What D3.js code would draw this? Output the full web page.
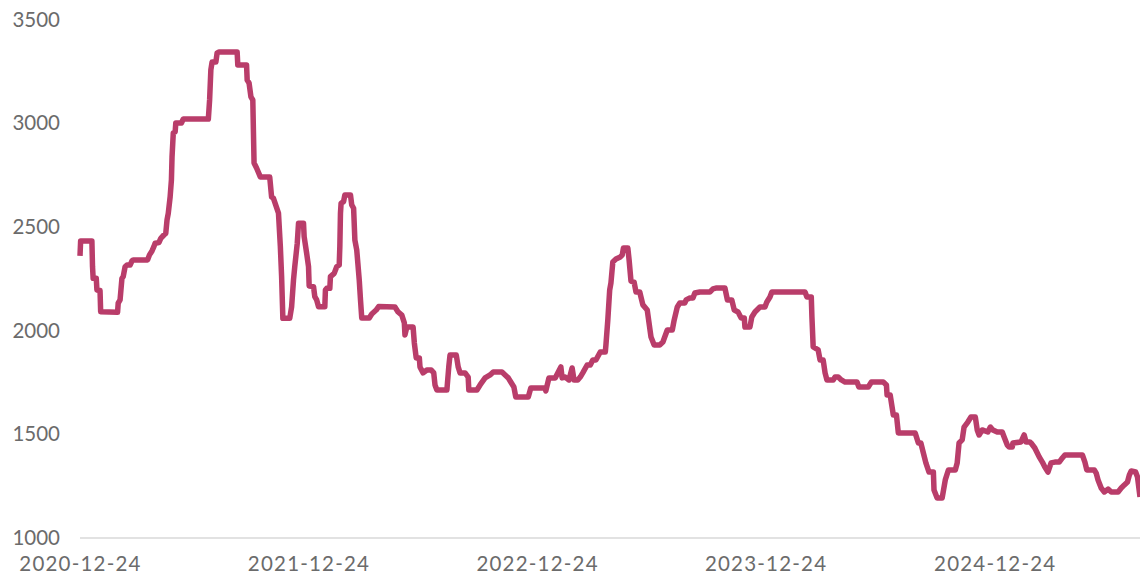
<!DOCTYPE html>
<html>
<head>
<meta charset="utf-8">
<script src="https://cdn.jsdelivr.net/npm/d3@7"></script>
<style>
  html, body { margin: 0; padding: 0; background: #ffffff; }
  svg { display: block; }
</style>
</head>
<body>
<svg id="chart" width="1140" height="578"></svg>
<script>
const dates = [
  "2020-12-24","2020-12-25","2021-01-12","2021-01-13","2021-01-14","2021-01-19","2021-01-20","2021-01-25","2021-01-26",
  "2021-02-22","2021-02-23","2021-02-26","2021-03-01","2021-03-03","2021-03-06","2021-03-09","2021-03-14","2021-03-17",
  "2021-03-19","2021-04-11","2021-04-14","2021-04-18","2021-04-21","2021-04-23","2021-04-29","2021-05-02","2021-05-07",
  "2021-05-10","2021-05-12","2021-05-14","2021-05-17","2021-05-19","2021-05-20","2021-05-22","2021-05-25","2021-05-26",
  "2021-06-04","2021-06-07","2021-07-17","2021-07-19","2021-07-21","2021-07-23","2021-07-29","2021-07-31","2021-08-03",
  "2021-09-01","2021-09-02","2021-09-16","2021-09-17","2021-09-20","2021-09-23","2021-09-26","2021-09-28","2021-10-02",
  "2021-10-08","2021-10-23","2021-10-26","2021-10-29","2021-11-06","2021-11-09","2021-11-11","2021-11-13","2021-11-24",
  "2021-11-27","2021-11-30","2021-12-02","2021-12-06","2021-12-08","2021-12-16","2021-12-17","2021-12-21","2021-12-24",
  "2021-12-25","2022-01-01","2022-01-03","2022-01-06","2022-01-09","2022-01-19","2022-01-20","2022-01-22","2022-01-27",
  "2022-01-28","2022-02-03","2022-02-07","2022-02-11","2022-02-12","2022-02-13","2022-02-14","2022-02-18","2022-02-20",
  "2022-03-01","2022-03-03","2022-03-06","2022-03-08","2022-03-11","2022-03-15","2022-03-17","2022-03-19","2022-03-31",
  "2022-04-04","2022-04-11","2022-04-15","2022-05-11","2022-05-16","2022-05-22","2022-05-26","2022-05-27","2022-05-30",
  "2022-06-09","2022-06-11","2022-06-14","2022-06-19","2022-06-20","2022-06-25","2022-07-01","2022-07-08","2022-07-12",
  "2022-07-14","2022-07-17","2022-08-02","2022-08-05","2022-08-07","2022-08-17","2022-08-20","2022-08-23","2022-08-31",
  "2022-09-05","2022-09-06","2022-09-19","2022-09-24","2022-10-02","2022-10-10","2022-10-15","2022-10-29","2022-11-03",
  "2022-11-08","2022-11-12","2022-11-17","2022-11-20","2022-12-10","2022-12-14","2022-12-29","2023-01-06","2023-01-07",
  "2023-01-12","2023-01-22","2023-01-31","2023-02-02","2023-02-07","2023-02-13","2023-02-18","2023-02-21","2023-02-27",
  "2023-03-03","2023-03-07","2023-03-14","2023-03-19","2023-03-23","2023-03-28","2023-04-04","2023-04-12","2023-04-13",
  "2023-04-16","2023-04-19","2023-04-21","2023-04-24","2023-04-29","2023-05-06","2023-05-09","2023-05-11","2023-05-18",
  "2023-05-20","2023-05-23","2023-05-28","2023-05-31","2023-06-06","2023-06-11","2023-06-18","2023-06-24","2023-06-29",
  "2023-07-08","2023-07-13","2023-07-20","2023-07-28","2023-07-31","2023-08-05","2023-08-09","2023-08-17","2023-08-19",
  "2023-08-25","2023-08-30","2023-09-02","2023-09-10","2023-09-26","2023-10-01","2023-10-07","2023-10-20","2023-10-24",
  "2023-10-31","2023-11-04","2023-11-10","2023-11-15","2023-11-20","2023-11-21","2023-11-29","2023-12-02","2023-12-07",
  "2023-12-15","2023-12-23","2023-12-26","2023-12-31","2024-01-03","2024-02-25","2024-02-28","2024-03-06","2024-03-07",
  "2024-03-09","2024-03-17","2024-03-20","2024-03-25","2024-03-28","2024-03-31","2024-04-10","2024-04-13","2024-04-18",
  "2024-04-23","2024-04-29","2024-05-18","2024-05-21","2024-06-05","2024-06-10","2024-06-29","2024-07-04","2024-07-05",
  "2024-07-10","2024-07-12","2024-07-15","2024-07-20","2024-07-23","2024-08-19","2024-08-24","2024-08-28","2024-09-01",
  "2024-09-05","2024-09-10","2024-09-17","2024-09-18","2024-09-23","2024-10-01","2024-10-06","2024-10-11","2024-10-22",
  "2024-10-25","2024-10-28","2024-11-02","2024-11-05","2024-11-11","2024-11-16","2024-11-23","2024-11-26","2024-11-29",
  "2024-12-04","2024-12-13","2024-12-17","2024-12-21","2024-12-28","2025-01-05","2025-01-08","2025-01-13","2025-01-16",
  "2025-01-21","2025-01-22","2025-02-04","2025-02-09","2025-02-12","2025-02-18","2025-02-20","2025-02-26","2025-03-05",
  "2025-03-10","2025-03-14","2025-03-19","2025-03-24","2025-03-30","2025-04-06","2025-04-11","2025-04-15","2025-05-13",
  "2025-05-17","2025-05-20","2025-06-01","2025-06-04","2025-06-07","2025-06-12","2025-06-17","2025-06-23","2025-06-28",
  "2025-07-09","2025-07-14","2025-07-19","2025-07-24","2025-07-27","2025-07-30","2025-08-06","2025-08-09","2025-08-13"
];
const values = [
  2360,2432,2432,2308,2252,2252,2196,2193,2091,
  2088,2132,2148,2252,2260,2308,2316,2316,2336,
  2341,2341,2365,2384,2405,2421,2424,2445,2461,
  2469,2533,2566,2646,2726,2837,2953,2958,3001,
  3001,3020,3020,3112,3257,3295,3295,3339,3343,
  3343,3281,3281,3208,3194,3127,3112,2808,2784,
  2741,2741,2644,2638,2566,2405,2260,2059,2059,
  2115,2244,2308,2421,2517,2517,2453,2373,2308,
  2215,2212,2164,2148,2115,2115,2196,2204,2204,
  2260,2276,2308,2316,2405,2566,2614,2622,2654,
  2654,2606,2590,2437,2389,2244,2148,2061,2061,
  2080,2099,2116,2114,2090,2075,2037,1979,2017,
  2017,1940,1868,1868,1825,1796,1810,1810,1796,
  1738,1714,1714,1825,1882,1882,1825,1796,1796,
  1776,1714,1714,1738,1772,1786,1800,1800,1786,
  1772,1752,1728,1680,1680,1723,1723,1723,1709,
  1772,1772,1825,1772,1776,1762,1820,1762,1762,
  1776,1796,1834,1834,1858,1858,1897,1897,1931,
  2051,2196,2230,2331,2345,2355,2365,2398,2398,
  2341,2239,2234,2186,2186,2124,2099,1969,1931,
  1931,1945,2003,2003,2051,2114,2133,2133,2148,
  2157,2157,2181,2186,2186,2201,2206,2206,2148,
  2148,2099,2090,2061,2061,2017,2017,2066,2090,
  2114,2114,2138,2162,2186,2186,2162,2162,2066,
  1921,1907,1858,1858,1796,1762,1762,1776,1776,
  1762,1752,1752,1728,1728,1752,1752,1738,1690,
  1690,1651,1593,1593,1506,1506,1458,1458,1410,
  1362,1318,1318,1231,1193,1193,1280,1328,1328,
  1362,1458,1473,1535,1559,1583,1583,1521,1497,
  1521,1511,1535,1521,1511,1511,1487,1448,1439,
  1439,1458,1463,1497,1463,1463,1458,1434,1391,
  1366,1342,1318,1362,1366,1366,1386,1400,1400,
  1366,1328,1328,1313,1280,1241,1222,1236,1222,
  1222,1241,1256,1270,1304,1323,1318,1294,1198
];
const yTicks = [1000, 1500, 2000, 2500, 3000, 3500];
const xTickLabels = ["2020-12-24", "2021-12-24", "2022-12-24", "2023-12-24", "2024-12-24"];

const parseDate = d3.timeParse("%Y-%m-%d");
const data = dates.map((d, i) => ({ date: parseDate(d), value: values[i] }));

const svg = d3.select("#chart");
const mLeft = 80, mRight = 1140, mTop = 19.5, mBottom = 538;

const x = d3.scaleTime()
  .domain([parseDate(dates[0]), parseDate(dates[dates.length - 1])])
  .range([mLeft, mRight]);
const y = d3.scaleLinear().domain([1000, 3500]).range([mBottom, mTop]);

const font = "Lato, 'Noto Sans', sans-serif";

// baseline axis
svg.append("line")
  .attr("x1", mLeft).attr("x2", mRight)
  .attr("y1", y(1000)).attr("y2", y(1000))
  .attr("stroke", "#d9d9d9").attr("stroke-width", 1.5);

// y labels
const yAxis = d3.axisLeft(y).tickValues(yTicks).tickSize(0).tickPadding(20).tickFormat(d3.format("d"));
const gy = svg.append("g").attr("transform", `translate(${mLeft},0)`).call(yAxis);
gy.select(".domain").remove();
gy.selectAll("text")
  .attr("font-family", font).attr("font-size", 20.5).attr("fill", "#6b6b6b");

// x labels
const xAxis = d3.axisBottom(x)
  .tickValues(xTickLabels.map(parseDate))
  .tickSize(0).tickPadding(18)
  .tickFormat(d3.timeFormat("%Y-%m-%d"));
const gx = svg.append("g").attr("transform", `translate(0,${mBottom})`).call(xAxis);
gx.select(".domain").remove();
gx.selectAll("text")
  .attr("font-family", font).attr("font-size", 20.5).attr("fill", "#6b6b6b")
  .attr("letter-spacing", 1.2);

// line
const line = d3.line().x(d => x(d.date)).y(d => y(d.value));
svg.append("path")
  .datum(data)
  .attr("d", line)
  .attr("fill", "none")
  .attr("stroke", "#b93d6a")
  .attr("stroke-width", 5.5)
  .attr("stroke-linejoin", "round")
  .attr("stroke-linecap", "butt");
</script>
</body>
</html>
